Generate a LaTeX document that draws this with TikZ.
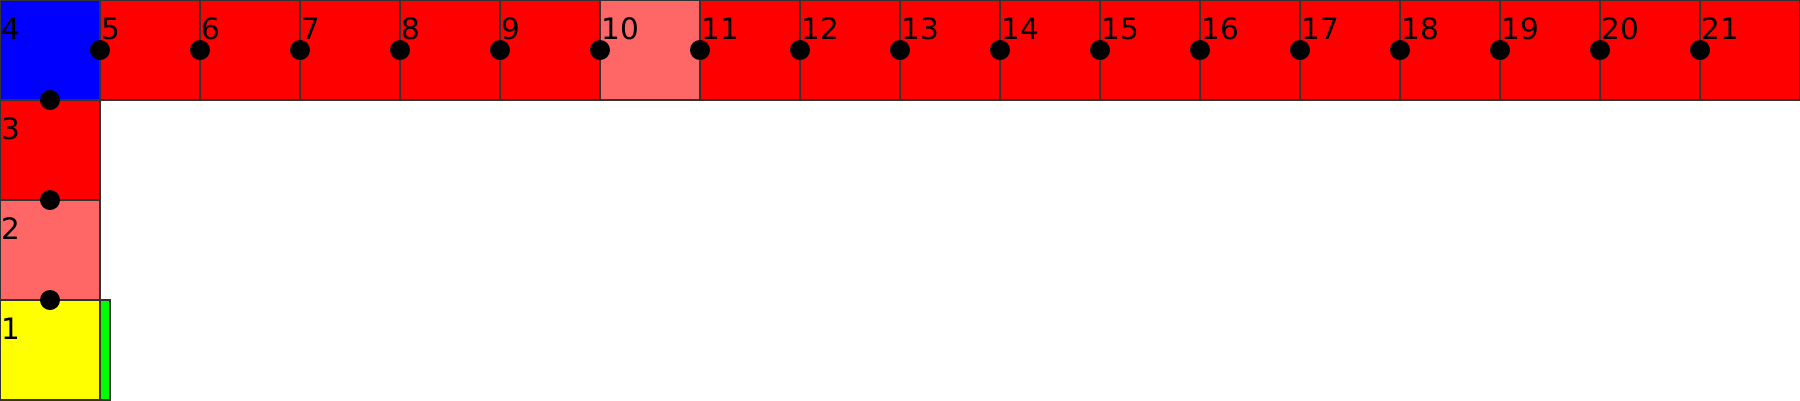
\documentclass[tikz,border=0pt]{standalone}
\usepackage{fontspec}
\setmainfont{DejaVu Sans}
\definecolor{cellyellow}{RGB}{255,255,0}
\begin{document}
\begin{tikzpicture}[x=1cm, y=1cm,
  cell/.style={draw=black!80, line width=0.3pt, minimum size=1cm, inner sep=0pt, outer sep=0pt, anchor=north west},
  num/.style={font=\fontsize{8.4}{10}\selectfont, anchor=base west, inner sep=0pt},
  dot/.style={circle, fill=black, minimum size=0.2cm, inner sep=0pt}]
\useasboundingbox (0,0) rectangle (18,-4);
% left column
\node[cell, fill=blue] (c4) at (0,0) {};
\node[cell, fill=red] (c3) at (0,-1) {};
\node[cell, fill=red!60] (c2) at (0,-2) {};
\node[cell, fill=cellyellow] (c1) at (0,-3) {};
\node[cell, fill=green, minimum width=0.1cm] (g) at (1,-3) {};
% top row
\foreach \i in {5,...,21} {
  \ifnum\i=10 \def\col{red!60}\else\def\col{red}\fi
  \node[cell, fill=\col] (c\i) at (\i-4,0) {};
}
% dots
\foreach \i in {5,...,21} \node[dot] (d\i) at (c\i.west) {};
\foreach \i in {1,2,3} \node[dot] (d\i) at (c\i.north) {};
% numbers
\foreach \i in {1,...,21} \node[num] (n\i) at ([shift={(0.01,-0.395)}]c\i.north west) {\i};
\end{tikzpicture}
\end{document}
